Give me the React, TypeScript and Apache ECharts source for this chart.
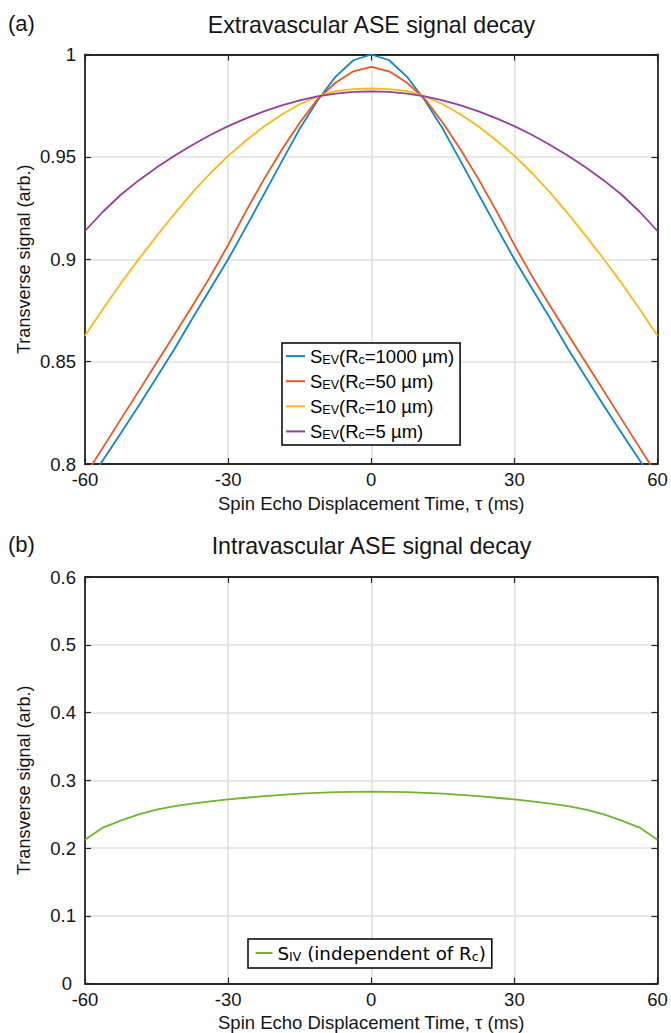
import React, { useEffect, useRef } from "react";
import * as echarts from "echarts";

// Spin echo displacement time tau (ms)
const tau = [-60, -56.25, -52.5, -48.75, -45, -41.25, -37.5, -33.75, -30, -26.25, -22.5, -18.75, -15, -11.25, -7.5, -3.75, 0, 3.75, 7.5, 11.25, 15, 18.75, 22.5, 26.25, 30, 33.75, 37.5, 41.25, 45, 48.75, 52.5, 56.25, 60];

// Extravascular signal, Rc = 1000 um
const sEv1000 = [0.7890, 0.8018, 0.8150, 0.8285, 0.8422, 0.8562, 0.8711, 0.8855, 0.9000, 0.9157, 0.9317, 0.9478, 0.9637, 0.9775, 0.9891, 0.9972, 1.0000, 0.9972, 0.9891, 0.9775, 0.9637, 0.9478, 0.9317, 0.9157, 0.9000, 0.8855, 0.8711, 0.8562, 0.8422, 0.8285, 0.8150, 0.8018, 0.7890];
// Rc = 50 um
const sEv50 = [0.7942, 0.8080, 0.8218, 0.8356, 0.8494, 0.8632, 0.8772, 0.8915, 0.9070, 0.9235, 0.9390, 0.9535, 0.9667, 0.9782, 0.9862, 0.9918, 0.9940, 0.9918, 0.9862, 0.9782, 0.9667, 0.9535, 0.9390, 0.9235, 0.9070, 0.8915, 0.8772, 0.8632, 0.8494, 0.8356, 0.8218, 0.8080, 0.7942];
// Rc = 10 um
const sEv10 = [0.8626, 0.8757, 0.8882, 0.9000, 0.9113, 0.9222, 0.9325, 0.9420, 0.9505, 0.9580, 0.9648, 0.9707, 0.9757, 0.9795, 0.9821, 0.9831, 0.9834, 0.9831, 0.9821, 0.9795, 0.9757, 0.9707, 0.9648, 0.9580, 0.9505, 0.9420, 0.9325, 0.9222, 0.9113, 0.9000, 0.8882, 0.8757, 0.8626];
// Rc = 5 um
const sEv5 = [0.9138, 0.9232, 0.9315, 0.9385, 0.9448, 0.9505, 0.9558, 0.9607, 0.9650, 0.9688, 0.9722, 0.9752, 0.9776, 0.9796, 0.9809, 0.9817, 0.9820, 0.9817, 0.9809, 0.9796, 0.9776, 0.9752, 0.9722, 0.9688, 0.9650, 0.9607, 0.9558, 0.9505, 0.9448, 0.9385, 0.9315, 0.9232, 0.9138];
// Intravascular signal
const sIv = [0.2122, 0.2302, 0.2405, 0.2497, 0.2568, 0.2618, 0.2655, 0.2688, 0.2717, 0.2742, 0.2765, 0.2785, 0.2802, 0.2815, 0.2824, 0.2829, 0.2830, 0.2829, 0.2824, 0.2815, 0.2802, 0.2785, 0.2765, 0.2742, 0.2717, 0.2688, 0.2655, 0.2618, 0.2568, 0.2497, 0.2405, 0.2302, 0.2122];

// Tick definitions
const xTicks = [-60, -30, 0, 30, 60];
const yTicksEv = [0.8, 0.85, 0.9, 0.95, 1];
const yTicksIv = [0, 0.1, 0.2, 0.3, 0.4, 0.5, 0.6];

const evNames = ["SEV(Rc=1000 µm)", "SEV(Rc=50 µm)", "SEV(Rc=10 µm)", "SEV(Rc=5 µm)"];
const evRich = [
  "{m|S}{s|EV}{m|(R}{s|c}{m|=1000 µm)}",
  "{m|S}{s|EV}{m|(R}{s|c}{m|=50 µm)}",
  "{m|S}{s|EV}{m|(R}{s|c}{m|=10 µm)}",
  "{m|S}{s|EV}{m|(R}{s|c}{m|=5 µm)}",
];
const ivName = "SIV (independent of Rc)";
const ivRich = "{m|S}{s|IV}{m| (independent of R}{s|c}{m|)}";

const evColors = ["#0E86CA", "#F0561C", "#FDB814", "#983D9E"];
const ivColor = "#70B530";

const FONT = '"Liberation Sans", Arial, Helvetica, sans-serif';
const DEJAVU = '"DejaVu Sans", sans-serif';
const AXIS = "#262626";
const TXT = "#151515";

function pairs(ys: number[]) {
  return tau.map((t, i) => [t, ys[i]]);
}

export default function App() {
  const ref = useRef<HTMLDivElement>(null);
  useEffect(() => {
    document.body.style.margin = "0";
    if (!ref.current) return;
    const chart = echarts.init(ref.current, null, { renderer: "svg" });

    const xStep = xTicks[1] - xTicks[0];
    const mkX = (grid: number, top: boolean) => ({
      type: "value",
      gridIndex: grid,
      position: top ? "top" : "bottom",
      min: xTicks[0],
      max: xTicks[xTicks.length - 1],
      interval: xStep,
      name: top ? "" : "Spin Echo Displacement Time, τ (ms)",
      nameLocation: "middle",
      nameGap: 29.5,
      nameMoveOverlap: false,
      nameTextStyle: { fontFamily: FONT, fontSize: 18.5, color: TXT },
      axisLine: { show: true, onZero: false, lineStyle: { color: AXIS, width: 1.8 } },
      axisTick: { show: true, inside: true, length: 6, lineStyle: { color: AXIS, width: 1.2 } },
      axisLabel: { show: !top, margin: 8.75, lineHeight: 14, fontFamily: FONT, fontSize: 18.5, color: TXT },
      splitLine: { show: !top, lineStyle: { color: "#e0e0e0", width: 1.5 } },
    });
    const mkY = (grid: number, right: boolean, ticks: number[]) => ({
      type: "value",
      gridIndex: grid,
      position: right ? "right" : "left",
      min: ticks[0],
      max: ticks[ticks.length - 1],
      interval: +(ticks[1] - ticks[0]).toFixed(4),
      name: right ? "" : "Transverse signal (arb.)",
      nameLocation: "middle",
      nameGap: 52,
      nameMoveOverlap: false,
      nameRotate: 90,
      nameTextStyle: { fontFamily: FONT, fontSize: 18, color: TXT },
      axisLine: { show: true, onZero: false, lineStyle: { color: AXIS, width: 1.8 } },
      axisTick: { show: true, inside: true, length: 6, lineStyle: { color: AXIS, width: 1.2 } },
      axisLabel: {
        show: !right,
        margin: 9,
        lineHeight: 14,
        fontFamily: FONT,
        fontSize: 18.5,
        color: TXT,
        formatter: (v: number) => (v === 0 ? "{z|0}" : String(+v.toFixed(2))),
        rich: { z: { fontFamily: FONT, fontSize: 18.5, lineHeight: 14, color: TXT, padding: [0, 4, 0, 0] } },
      },
      splitLine: { show: !right, lineStyle: { color: "#e0e0e0", width: 1.5 } },
    });

    const evSeries = [sEv1000, sEv50, sEv10, sEv5].map((ys, i) => ({
      type: "line",
      name: evNames[i],
      xAxisIndex: 0,
      yAxisIndex: 0,
      data: pairs(ys),
      showSymbol: false,
      symbol: "none",
      clip: true,
      color: evColors[i],
      itemStyle: { color: evColors[i] },
      lineStyle: { color: evColors[i], width: 1.8 },
    }));

    const richMain = (family: string, size: number) => ({
      m: { fontFamily: family, fontSize: size, lineHeight: 20, color: "#000" },
      s: { fontFamily: family, fontSize: 12.5, lineHeight: 13, verticalAlign: "bottom", color: "#000" },
    });

    chart.setOption({
      animation: false,
      backgroundColor: "#fff",
      grid: [
        { left: 85, right: 13.5, top: 54.5, bottom: 569 },
        { left: 85, right: 13.5, top: 577, bottom: 46.5 },
      ],
      xAxis: [mkX(0, false), mkX(0, true), mkX(1, false), mkX(1, true)],
      yAxis: [mkY(0, false, yTicksEv), mkY(0, true, yTicksEv), mkY(1, false, yTicksIv), mkY(1, true, yTicksIv)],
      legend: [
        {
          data: evNames,
          orient: "vertical",
          left: 282,
          top: 343,
          icon: "rect",
          itemWidth: 19,
          itemHeight: 2,
          itemGap: 5.6,
          padding: [3.6, 6, 3.6, 4],
          backgroundColor: "#fff",
          borderColor: "#000",
          borderWidth: 1.5,
          selectedMode: false,
          formatter: (name: string) => evRich[evNames.indexOf(name)],
          textStyle: { fontFamily: FONT, fontSize: 18.5, color: "#000", rich: richMain(FONT, 18.5) },
        },
        {
          data: [ivName],
          orient: "vertical",
          left: 248,
          top: 939,
          icon: "rect",
          itemWidth: 17,
          itemHeight: 2,
          padding: [5, 6, 5, 7.5],
          backgroundColor: "#fff",
          borderColor: "#000",
          borderWidth: 1.5,
          selectedMode: false,
          formatter: () => ivRich,
          textStyle: { fontFamily: DEJAVU, fontSize: 18.3, color: "#000", rich: richMain(DEJAVU, 18.3) },
        },
      ],
      series: [
        ...evSeries,
        {
          type: "line",
          name: ivName,
          xAxisIndex: 2,
          yAxisIndex: 2,
          data: pairs(sIv),
          showSymbol: false,
          symbol: "none",
          clip: true,
          color: ivColor,
          itemStyle: { color: ivColor },
          lineStyle: { color: ivColor, width: 1.8 },
        },
      ],
      graphic: [
        { type: "text", left: 8, top: 12, style: { text: "(a)", fontFamily: FONT, fontSize: 22, fill: TXT } },
        { type: "text", x: 371.5, y: 25, style: { text: "Extravascular ASE signal decay", fontFamily: FONT, fontSize: 23.2, fill: TXT, align: "center", verticalAlign: "middle" } },
        { type: "text", left: 8, top: 533, style: { text: "(b)", fontFamily: FONT, fontSize: 22, fill: TXT } },
        { type: "text", x: 371.5, y: 546, style: { text: "Intravascular ASE signal decay", fontFamily: FONT, fontSize: 23.2, fill: TXT, align: "center", verticalAlign: "middle" } },
      ],
    });
    return () => chart.dispose();
  }, []);
  return <div ref={ref} style={{ width: 671, height: 1033 }} />;
}
